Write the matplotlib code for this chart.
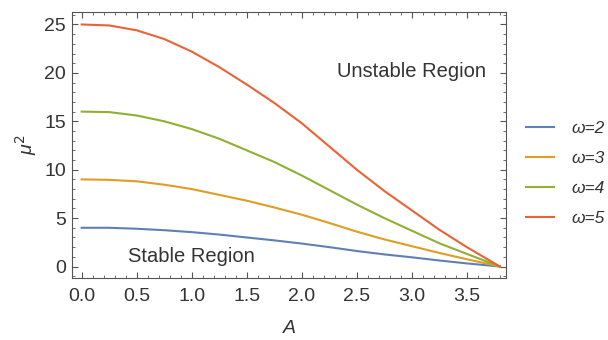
import matplotlib
matplotlib.use('Agg')
import matplotlib.pyplot as plt
from matplotlib.ticker import MultipleLocator

# data
A = [0.0, 0.25, 0.5, 0.75, 1.0, 1.25, 1.5, 1.75, 2.0, 2.25, 2.5, 2.75, 3.0, 3.25, 3.5, 3.8]
mu2_w2 = [4.0, 4.0, 3.9, 3.75, 3.55, 3.3, 3.0, 2.7, 2.37, 2.0, 1.6, 1.25, 0.95, 0.62, 0.32, 0.0]
mu2_w3 = [9.0, 8.95, 8.8, 8.45, 8.0, 7.4, 6.8, 6.1, 5.35, 4.5, 3.6, 2.8, 2.1, 1.4, 0.75, 0.0]
mu2_w4 = [16.0, 15.95, 15.6, 15.0, 14.2, 13.2, 12.0, 10.8, 9.4, 7.9, 6.4, 5.0, 3.7, 2.4, 1.3, 0.0]
mu2_w5 = [25.0, 24.9, 24.4, 23.5, 22.2, 20.6, 18.8, 16.9, 14.8, 12.4, 10.0, 7.8, 5.8, 3.8, 2.0, 0.0]
labels = ['ω=2', 'ω=3', 'ω=4', 'ω=5']
colors = ['#5E81B5', '#E19C24', '#8FB032', '#EB6235']

plt.rcParams['font.family'] = ['Liberation Sans', 'DejaVu Sans']

fig = plt.figure(figsize=(6.08, 3.4), dpi=100)
ax = fig.add_axes([0.118, 0.182, 0.715, 0.783])

lines = []
for ys, lab, c in zip([mu2_w2, mu2_w3, mu2_w4, mu2_w5], labels, colors):
    ln, = ax.plot(A, ys, color=c, lw=1.5, label=lab)
    lines.append(ln)

ax.set_xlim(-0.09, 3.86)
ax.set_ylim(-1.2, 26.3)
ax.xaxis.set_major_locator(MultipleLocator(0.5))
ax.xaxis.set_minor_locator(MultipleLocator(0.1))
ax.yaxis.set_major_locator(MultipleLocator(5))
ax.yaxis.set_minor_locator(MultipleLocator(1))
ax.xaxis.set_major_formatter(plt.FuncFormatter(lambda v, p: f'{v:.1f}'))
ax.tick_params(which='both', direction='in', top=True, right=True,
               labelsize=14, labelcolor='#333333', color='#555555')
ax.tick_params(which='major', length=4, width=0.8)
ax.tick_params(which='minor', length=2, width=0.6)
ax.tick_params(axis='x', which='major', pad=7)
ax.tick_params(axis='y', which='major', pad=4)
for s in ax.spines.values():
    s.set_color('#555555')
    s.set_linewidth(0.8)

ax.set_xlabel('A', fontsize=14, style='italic', color='#333333', labelpad=11)
ax.set_ylabel('μ$^2$', fontsize=14, style='italic', color='#333333', labelpad=4)

ax.text(3.0, 20.1, 'Unstable Region', fontsize=14.5, color='#333333', ha='center', va='center')
ax.text(1.0, 1.0, 'Stable Region', fontsize=14.5, color='#333333', ha='center', va='center')

leg = fig.legend(handles=lines, loc='center left', bbox_to_anchor=(0.84, 0.49), frameon=False,
                 fontsize=12.5, handlelength=1.6, handletextpad=1.0, labelspacing=0.85)
for t in leg.get_texts():
    t.set_color('#333333')
    t.set_style('italic')

fig.savefig('out.png', dpi=100)
